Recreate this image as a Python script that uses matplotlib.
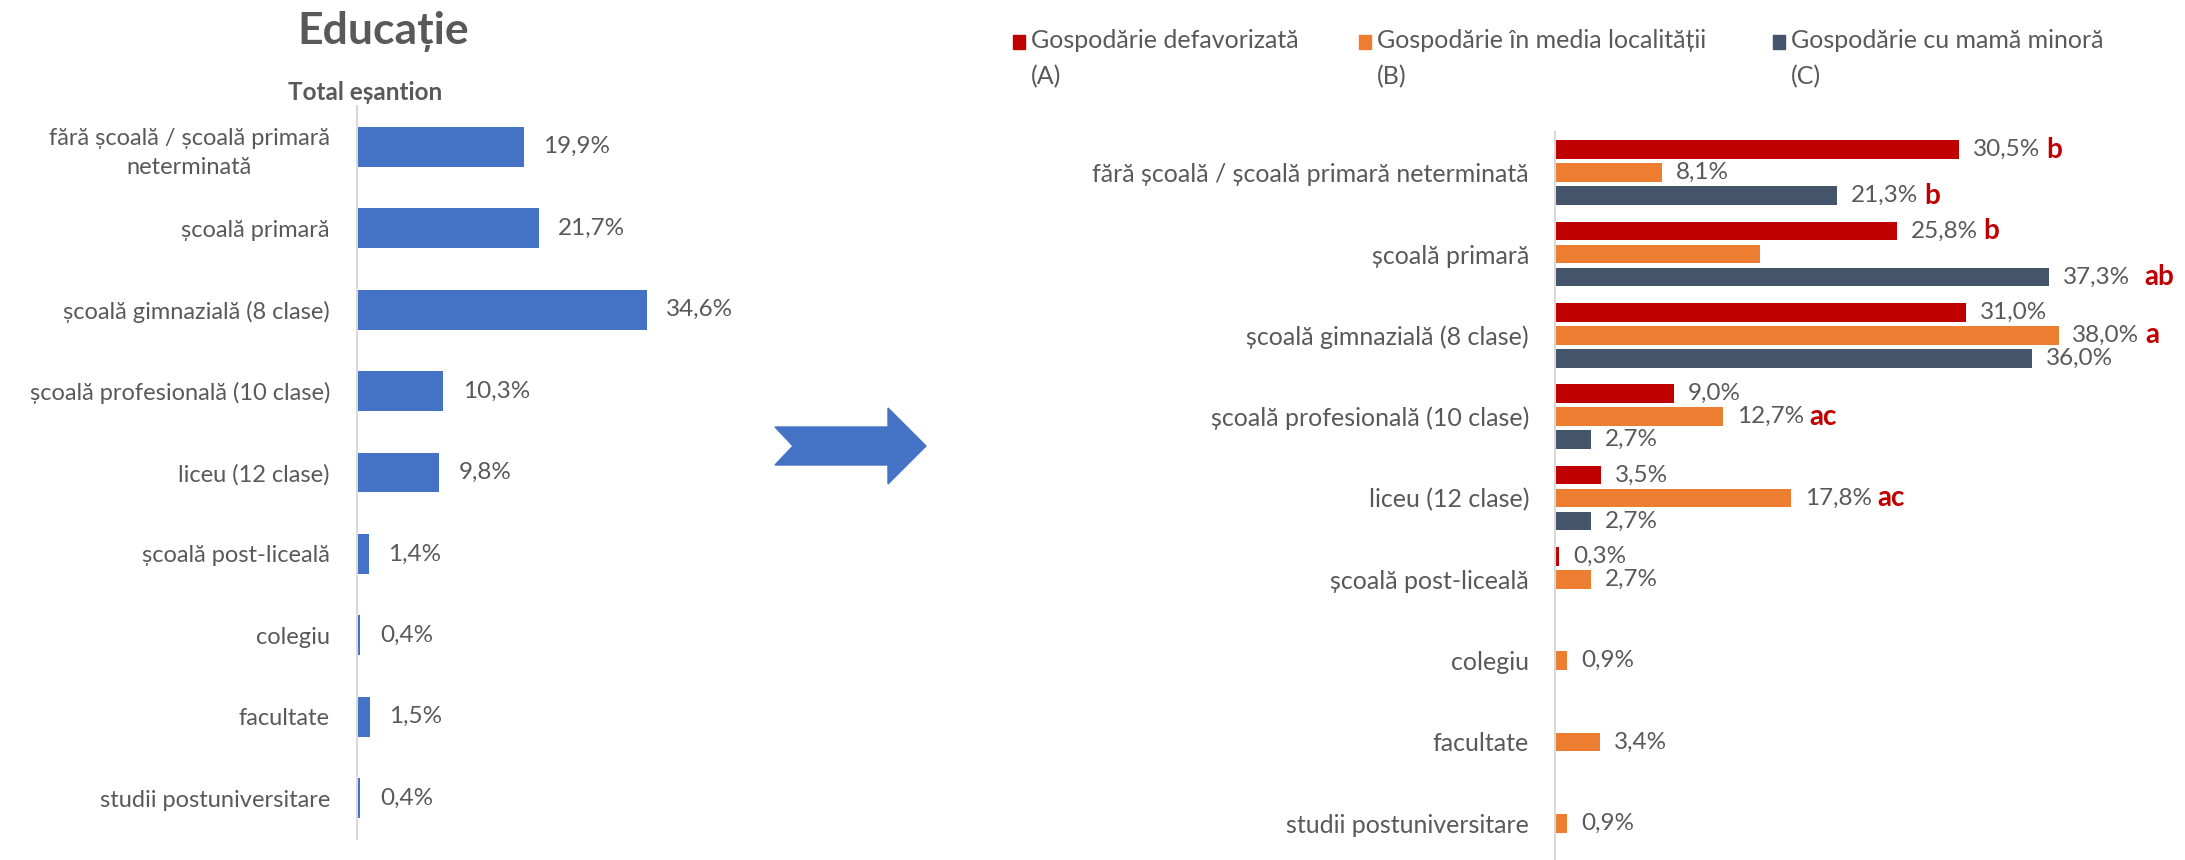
import numpy as np
import matplotlib
matplotlib.use("Agg")
import matplotlib.pyplot as plt
from matplotlib.patches import Polygon, Rectangle

plt.rcParams['font.family'] = ['Lato', 'DejaVu Sans']

categories = ['fără școală / școală primară neterminată', 'școală primară',
              'școală gimnazială (8 clase)', 'școală profesională (10 clase)',
              'liceu (12 clase)', 'școală post-liceală', 'colegiu', 'facultate',
              'studii postuniversitare']
left_categories = ['fără școală / școală primară\nneterminată'] + categories[1:]
total = [19.9, 21.7, 34.6, 10.3, 9.8, 1.4, 0.4, 1.5, 0.4]

nan = np.nan
grp_a = [30.5, 25.8, 31.0, 9.0, 3.5, 0.3, nan, nan, nan]
grp_b = [8.1, 15.5, 38.0, 12.7, 17.8, 2.7, 0.9, 3.4, 0.9]
grp_c = [21.3, 37.3, 36.0, 2.7, 2.7, nan, nan, nan, nan]
show_b = [True, False, True, True, True, True, True, True, True]
sig_a = ['b', 'b', '', '', '', '', '', '', '']
sig_b = ['', '', 'a', 'ac', 'ac', '', '', '', '']
sig_c = ['b', 'ab', '', '', '', '', '', '', '']

series_names = ['Gospodărie defavorizată\n(A)', 'Gospodărie în media localității\n(B)',
                'Gospodărie cu mamă minoră\n(C)']
colors = ['#C00000', '#ED7D31', '#44546A']
blue = '#4472C4'
grey = '#595959'
sigred = '#C00000'
FS_L = 17
FS_R = 18
FS_V = 17.5

W, H = 2185, 860
fig = plt.figure(figsize=(W / 100, H / 100), dpi=100)


def fmt(v):
    return ('%.1f%%' % v).replace('.', ',')


def style(ax, pad, fs):
    for s in ['top', 'right', 'bottom']:
        ax.spines[s].set_visible(False)
    ax.spines['left'].set_color('#D9D9D9')
    ax.spines['left'].set_linewidth(1.5)
    ax.set_xticks([])
    ax.tick_params(axis='y', length=0, pad=pad, labelsize=fs, labelcolor=grey)
    ax.set_xlim(0, 40)
    ax.set_ylim(len(categories) - 0.5, -0.5)


# left panel
ax1 = fig.add_axes([357 / W, (H - 839) / H, 335 / W, 733 / H])
y = np.arange(len(categories))
ax1.barh(y, total, height=0.49, color=blue)
ax1.set_yticks(y)
ax1.set_yticklabels(left_categories)
for lbl in ax1.get_yticklabels():
    lbl.set_multialignment('center')
    lbl.set_linespacing(1.5)
style(ax1, 19.5, FS_L)
for yi, v in zip(y, total):
    ax1.annotate(fmt(v), (v, yi), xytext=(14, 0), textcoords='offset points',
                 va='center', ha='left', fontsize=FS_V, color=grey)

fig.text(383 / W, 1 - 31 / H, 'Educație', ha='center', va='center',
         fontsize=32, fontweight='bold', color=grey)
fig.text(365 / W, 1 - 93 / H, 'Total eșantion', ha='center', va='center',
         fontsize=17.5, fontweight='bold', color=grey)

# right panel
ax2 = fig.add_axes([1555 / W, (H - 864) / H, 530 / W, 732 / H])
off = 0.283
bh = 0.227
for k, (vals, sig) in enumerate([(grp_a, sig_a), (grp_b, sig_b), (grp_c, sig_c)]):
    pos = y + (k - 1) * off
    ax2.barh(pos, vals, height=bh, color=colors[k])
    for i, (p, v) in enumerate(zip(pos, vals)):
        if np.isnan(v):
            continue
        if k == 1 and not show_b[i]:
            continue
        t = ax2.annotate(fmt(v), (v, p), xytext=(10, 0), textcoords='offset points',
                         va='center', ha='left', fontsize=FS_V, color=grey,
                         annotation_clip=False)
        if sig[i]:
            gap = 10 if len(sig[i]) == 2 and k == 2 else 4
            ax2.annotate(sig[i], xy=(1, 0.5), xycoords=t, xytext=(gap, 0),
                         textcoords='offset points', va='center', ha='left',
                         fontsize=20, fontweight='bold', color=sigred,
                         annotation_clip=False)
ax2.set_yticks(y)
ax2.set_yticklabels(categories)
style(ax2, 18.7, FS_R)

# legend
leg_x = [1013, 1359, 1773]
for lx, name, c in zip(leg_x, series_names, colors):
    fig.patches.append(Rectangle((lx / W, 1 - 49 / H), 12 / W, 14 / H,
                                 transform=fig.transFigure, color=c))
    fig.text((lx + 18) / W, 1 - 29 / H, name, ha='left', va='top',
             fontsize=FS_R, color=grey, linespacing=1.65)

# arrow between panels
arrow = [(775, 427), (888, 427), (888, 408), (926, 446), (888, 484),
         (888, 465), (775, 465), (793, 446)]
arrow = [(px / W, 1 - py / H) for px, py in arrow]
fig.patches.append(Polygon(arrow, closed=True, transform=fig.transFigure,
                           color=blue))

plt.savefig('out.png', dpi=100)
